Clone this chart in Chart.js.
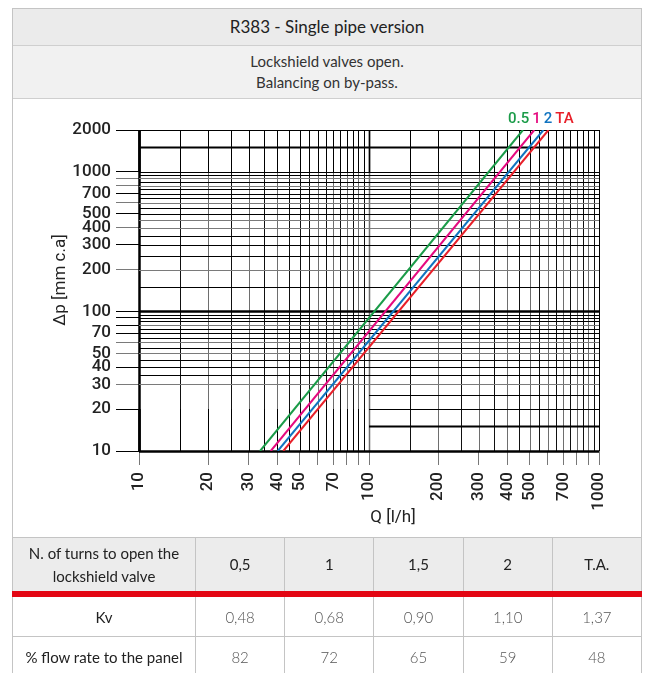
<!DOCTYPE html>
<html>
<head>
<meta charset="utf-8">
<script src="https://cdn.jsdelivr.net/npm/chart.js@4.4.1/dist/chart.umd.min.js"></script>
<style>
  body { margin:0; width:649px; height:673px; overflow:hidden; background:#fff; font-family: Lato, "Open Sans", sans-serif; color:#222; }
  .abs { position:absolute; box-sizing:border-box; }
  #frame { left:12px; top:8px; width:630px; height:700px; border:1px solid #c4c4c4; }
  #titolo { left:13px; top:9px; width:628px; height:37px; background:#ebebeb; border-bottom:1px solid #cfcfcf; text-align:center; font-size:17px; line-height:36px; }
  #sotto { left:13px; top:46px; width:628px; height:53px; background:#f1f1f1; border-bottom:1px solid #cfcfcf; text-align:center; font-size:15px; line-height:21px; padding-top:5px; color:#333; }
  #wrap { left:13px; top:99px; width:628px; height:439px; }
  #tab { position:absolute; left:12px; top:537px; width:630px; border-collapse:collapse; table-layout:fixed; }
  #tab td { border:1px solid #c4c4c4; text-align:center; font-size:15px; padding:0; }
  #tab tr.head td { height:53px; background:#ececec; border-bottom:6px solid #e30613; line-height:23px; }
  #tab tr.riga td { height:39px; color:#555; font-weight:300; }
  #tab tr.riga td.prima { color:#222; font-weight:400; }
</style>
</head>
<body>
<div class="abs" id="frame"></div>
<div class="abs" id="titolo">R383 - Single pipe version</div>
<div class="abs" id="sotto">Lockshield valves open.<br>Balancing on by-pass.</div>
<div class="abs" id="wrap"><canvas id="grafico"></canvas></div>
<table id="tab"></table>
<script>
// serie: portata Q [l/h] dove ogni retta tocca 10 e 2000 mm c.a
const serie = ['0.5', '1', '2', 'TA'];
const qA10 = [33.6, 37.4, 40.1, 42.4];
const qA2000 = [467, 523, 573, 603];
const dpEstremi = [10, 2000];
const colori = ['#1a9b48', '#e5097f', '#1174c0', '#e8202a'];

// tick e griglia
const xTicks = [10, 20, 30, 40, 50, 60, 70, 80, 90, 100, 200, 300, 400, 500, 600, 700, 800, 900, 1000];
const xEtichette = [10, 20, 30, 40, 50, 70, 100, 200, 300, 400, 500, 700, 1000];
const yTicks = [10, 20, 30, 40, 50, 60, 70, 80, 90, 100, 200, 300, 400, 500, 600, 700, 800, 900, 1000, 2000];
const yEtichette = [10, 20, 30, 40, 50, 70, 100, 200, 300, 400, 500, 700, 1000, 2000];
const yTickGrigi = [30, 50, 60, 200, 400, 600, 800, 900];

const qGriglia = [];
for (let q = 10; q < 100; q += 5) qGriglia.push(q);
for (let q = 100; q <= 1000; q += 50) qGriglia.push(q);
const dpGriglia = [];
for (let d = 10; d < 100; d += 5) dpGriglia.push(d);
for (let d = 100; d < 1000; d += 50) dpGriglia.push(d);
for (let d = 1000; d <= 2000; d += 500) dpGriglia.push(d);
const dpGrigi = [30, 50, 60, 80, 200, 400, 450, 600, 800, 900];

// tabella
const giri = ['0,5', '1', '1,5', '2', 'T.A.'];
const kv = ['0,48', '0,68', '0,90', '1,10', '1,37'];
const portata = [82, 72, 65, 59, 48];

function creaTabella() {
  const tab = document.getElementById('tab');
  let html = '<colgroup><col style="width:183px">' + giri.map(() => '<col>').join('') + '</colgroup>';
  html += '<tr class="head"><td>N. of turns to open the<br>lockshield valve</td>' + giri.map(g => `<td>${g}</td>`).join('') + '</tr>';
  html += '<tr class="riga"><td class="prima">Kv</td>' + kv.map(v => `<td>${v}</td>`).join('') + '</tr>';
  html += '<tr class="riga"><td class="prima">% flow rate to the panel</td>' + portata.map(v => `<td>${v}</td>`).join('') + '</tr>';
  tab.innerHTML = html;
}

function linea(ctx, x0, y0, x1, y1) {
  ctx.beginPath();
  ctx.moveTo(x0, y0);
  ctx.lineTo(x1, y1);
  ctx.stroke();
}

const grigliaPlugin = {
  id: 'grigliaCarta',
  beforeDatasetsDraw(chart) {
    const {ctx, chartArea: a, scales: {x, y}} = chart;
    const y1000 = y.getPixelForValue(1000);
    const y20 = y.getPixelForValue(20);
    ctx.save();
    // verticali
    qGriglia.forEach(q => {
      const px = Math.round(x.getPixelForValue(q)) + 0.5;
      ctx.strokeStyle = (q % 10 === 5 || q % 100 === 50) ? '#111' : '#6e6e6e';
      ctx.lineWidth = q === 10 ? 2.5 : (q === 100 ? 1.5 : 1);
      if (q === 10 || q === 1000) ctx.strokeStyle = '#000';
      linea(ctx, px, a.top, px, a.bottom);
      // fascia alta sempre nera, e tratto basso nero sotto i 100 l/h
      ctx.strokeStyle = '#000';
      linea(ctx, px, a.top, px, y1000);
      if (q < 100) linea(ctx, px, y20, px, a.bottom);
    });
    // orizzontali
    dpGriglia.forEach(d => {
      const py = Math.round(y.getPixelForValue(d)) + 0.5;
      let x0 = a.left;
      if (d > 10 && d < 30) x0 = x.getPixelForValue(100);
      ctx.strokeStyle = dpGrigi.includes(d) ? '#7a7a7a' : '#000';
      ctx.lineWidth = (d === 100 || d === 10) ? 2.5 : ((d === 1500 || d === 15) ? 2 : 1);
      linea(ctx, x0, py, a.right, py);
    });
    ctx.restore();
  },
  afterDatasetsDraw(chart) {
    const {ctx, chartArea: a, scales: {x}} = chart;
    ctx.save();
    // etichette delle rette
    ctx.font = '500 15px Roboto';
    ctx.textBaseline = 'middle';
    let cx = x.getPixelForValue(qA2000[0]) - 15;
    serie.forEach((s, i) => {
      ctx.fillStyle = colori[i];
      ctx.fillText(s, cx, a.top - 11);
      cx += ctx.measureText(s).width + 3;
    });
    // titoli assi
    ctx.fillStyle = '#222';
    ctx.font = '17px Roboto';
    ctx.textAlign = 'center';
    ctx.fillText('Q [l/h]', a.left + 254, a.bottom + 67);
    ctx.translate(a.left - 78, a.top + 150);
    ctx.rotate(-Math.PI / 2);
    ctx.fillText('Δp [mm c.a]', 0, 0);
    ctx.restore();
  }
};

function creaGrafico() {
  const ctx = document.getElementById('grafico');
  Chart.defaults.font.family = 'Roboto';
  Chart.defaults.color = '#222';

  new Chart(ctx, {
    type: 'scatter',
    data: {
      datasets: serie.map((s, i) => ({
        label: s,
        data: [
          {x: qA10[i], y: dpEstremi[0]},
          {x: qA2000[i], y: dpEstremi[1]}
        ],
        showLine: true,
        borderColor: colori[i],
        borderWidth: 2,
        pointRadius: 0,
        tension: 0
      }))
    },
    options: {
      responsive: true,
      maintainAspectRatio: false,
      animation: false,
      layout: { padding: { top: 31, right: 42, left: 0, bottom: 0 } },
      plugins: { legend: { display: false }, tooltip: { enabled: false } },
      scales: {
        x: {
          type: 'logarithmic',
          min: 10,
          max: 1000,
          afterBuildTicks: sc => { sc.ticks = xTicks.map(v => ({value: v})); },
          afterFit: sc => { sc.height = 87; },
          border: { display: false },
          grid: { drawOnChartArea: false, tickLength: 14, color: '#777' },
          ticks: {
            autoSkip: false,
            minRotation: 90,
            maxRotation: 90,
            padding: 7,
            font: { size: 17, weight: 500 },
            callback: v => xEtichette.includes(v) ? String(v) : ''
          }
        },
        y: {
          type: 'logarithmic',
          min: 10,
          max: 2000,
          afterBuildTicks: sc => { sc.ticks = yTicks.map(v => ({value: v})); },
          afterFit: sc => { sc.width = 126; },
          border: { display: false },
          grid: {
            drawOnChartArea: false,
            tickLength: 23,
            color: c => yTickGrigi.includes(c.tick && c.tick.value) ? '#7a7a7a' : '#000'
          },
          ticks: {
            autoSkip: false,
            padding: 5,
            font: { size: 17, weight: 500 },
            callback: v => yEtichette.includes(v) ? String(v) : ''
          }
        }
      }
    },
    plugins: [grigliaPlugin]
  });
}

creaTabella();
creaGrafico();
</script>
</body>
</html>
